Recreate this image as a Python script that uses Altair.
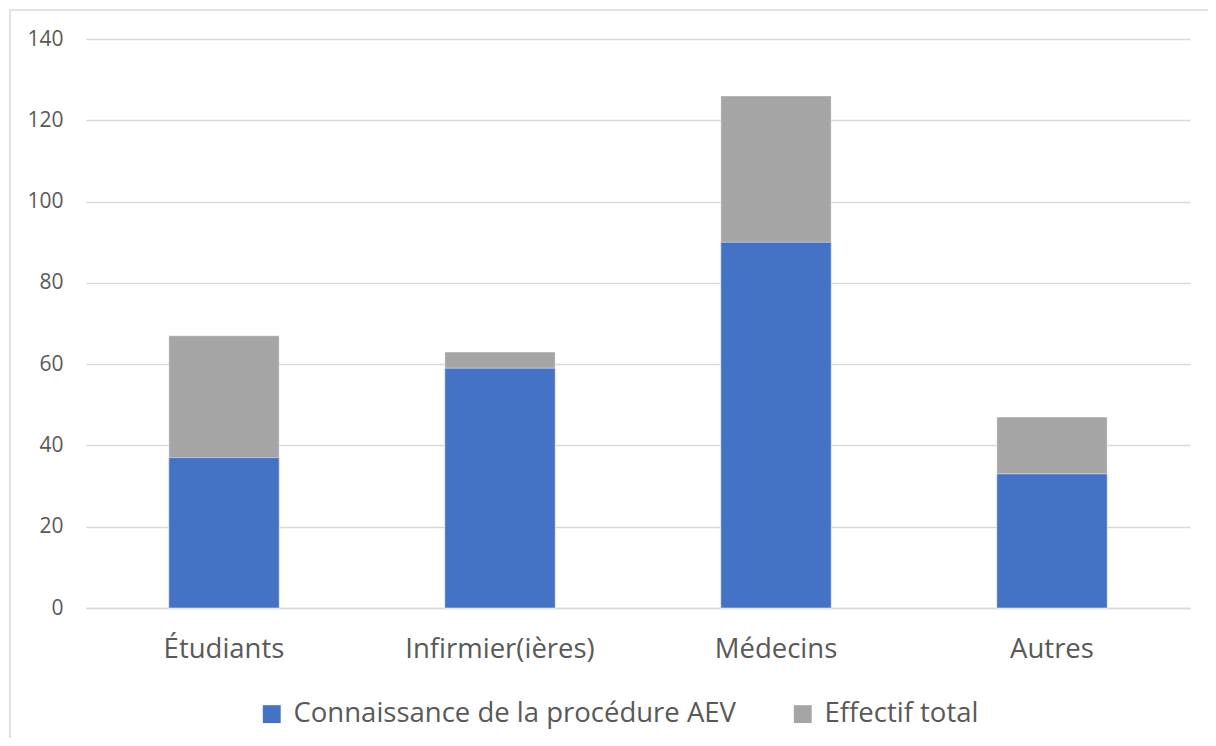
import altair as alt
import pandas as pd

categories = ["Étudiants", "Infirmier(ières)", "Médecins", "Autres"]
connaissance = [37, 59, 90, 33]
effectif_total = [67, 63, 126, 47]
series_names = ["Connaissance de la procédure AEV", "Effectif total"]
y_ticks = [0, 20, 40, 60, 80, 100, 120, 140]

rows = []
for c, t in zip(categories, effectif_total):
    rows.append({"cat": c, "series": series_names[1], "value": t})
for c, k in zip(categories, connaissance):
    rows.append({"cat": c, "series": series_names[0], "value": k})
df = pd.DataFrame(rows)

FONT = "Open Sans"
color = alt.Color(
    "series:N",
    scale=alt.Scale(domain=series_names, range=["#4472C4", "#A5A5A5"]),
    legend=alt.Legend(
        title=None, orient="none", direction="horizontal",
        legendX=172, legendY=661,
        symbolType="square", symbolSize=320, symbolStrokeWidth=0,
        labelFontSize=27.5, labelColor="#595959", labelFont=FONT,
        columnPadding=52, labelOffset=8, labelLimit=700,
    ),
)
x = alt.X(
    "cat:N", sort=categories, title=None,
    scale=alt.Scale(paddingInner=0.6, paddingOuter=0.3),
    axis=alt.Axis(labelAngle=0, labelFontSize=27.5, labelColor="#595959", labelFont=FONT,
                  ticks=False, domain=True, domainColor="#d9d9d9", domainWidth=1.5,
                  labelPadding=27, grid=False, labelLimit=500),
)
y = alt.Y(
    "value:Q", title=None, stack=None,
    scale=alt.Scale(domain=[0, 140]),
    axis=alt.Axis(values=y_ticks, labelFontSize=21, labelColor="#595959", labelFont=FONT,
                  ticks=False, domain=False, gridColor="#d9d9d9", gridWidth=1.5,
                  labelPadding=23),
)

frame = alt.Chart(pd.DataFrame({"a": [0]})).mark_rect(
    fill=None, stroke="#d9d9d9", strokeWidth=1.5
).encode(x=alt.value(-76), x2=alt.value(1124), y=alt.value(-29), y2=alt.value(760))

base = alt.Chart(df)
total_bars = base.transform_filter(alt.datum.series == series_names[1]).mark_bar(
    stroke="white", strokeWidth=0.5
).encode(x=x, y=y, color=color)
known_bars = base.transform_filter(alt.datum.series == series_names[0]).mark_bar(
    stroke="white", strokeWidth=0.5
).encode(x=x, y=y, color=color)

chart = alt.layer(frame, total_bars, known_bars).properties(
    width=1104, height=569,
    autosize=alt.AutoSizeParams(type="none"),
    padding={"left": 78, "top": 31, "right": 18, "bottom": 130},
    background="white",
).configure_view(stroke=None)

chart.save("out.html", embed_options={"renderer": "svg", "actions": False})
